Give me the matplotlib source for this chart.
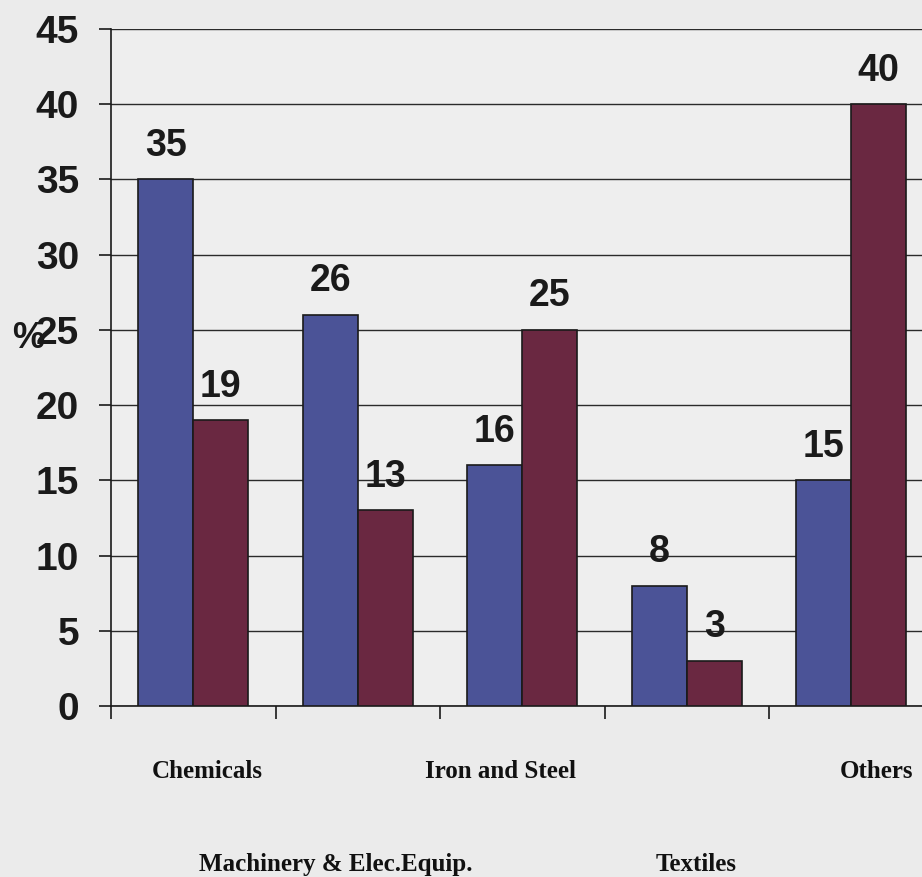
import matplotlib
matplotlib.use("Agg")
import matplotlib.pyplot as plt
import numpy as np

categories = ["Chemicals", "Machinery & Elec.Equip.", "Iron and Steel", "Textiles", "Others"]
series_a = [35, 26, 16, 8, 15]
series_b = [19, 13, 25, 3, 40]
y_ticks = [0, 5, 10, 15, 20, 25, 30, 35, 40, 45]

blue = "#4B5397"
maroon = "#6A2841"
bg = "#EBEBEB"

W, H = 922, 877
fig = plt.figure(figsize=(W / 100, H / 100), dpi=100, facecolor=bg)

# axes in pixel terms: left spine at x=111, y=0 at 706, y=45 at 29, category width ~164.5px
left, top_px, bottom_px = 111, 29, 706
cat_w = 164.5
ax = fig.add_axes([left / W, 1 - bottom_px / H, 5 * cat_w / W, (bottom_px - top_px) / H])
ax.set_facecolor("#EEEEEE")

x = np.arange(len(categories)) + 0.5
bw = 0.334
ax.bar(x - bw / 2, series_a, bw, color=blue, edgecolor="#1a1a1a", linewidth=1.2, zorder=3)
ax.bar(x + bw / 2, series_b, bw, color=maroon, edgecolor="#1a1a1a", linewidth=1.2, zorder=3)

ax.set_xlim(0, 5)
ax.set_ylim(0, 45)
ax.set_yticks(y_ticks)
ax.yaxis.grid(True, color="#2a2a2a", linewidth=1.0, zorder=0)
ax.set_axisbelow(True)

for s in ["top", "right"]:
    ax.spines[s].set_visible(False)
ax.spines["left"].set_color("#1a1a1a")
ax.spines["bottom"].set_color("#1a1a1a")
ax.spines["left"].set_linewidth(1.2)
ax.spines["bottom"].set_linewidth(1.2)

ax.tick_params(axis="y", length=9, width=1.2, pad=14, colors="#1a1a1a",
               labelsize=28, labelcolor="#1a1a1a")
for t in ax.get_yticklabels():
    t.set_fontfamily("Liberation Sans")
    t.set_fontweight("bold")

ax.set_xticks(np.arange(0, 6))
ax.set_xticklabels([])
ax.tick_params(axis="x", length=9, width=1.2, colors="#1a1a1a")

# staggered category labels, nudged horizontally (in points)
label_nudge = [10, -16, -16, 7, 18]
for i, name in enumerate(categories):
    row_y = -0.107 if i % 2 == 0 else -0.243
    ax.annotate(name, (x[i], row_y), xycoords=ax.get_xaxis_transform(),
                xytext=(label_nudge[i], 0), textcoords="offset points",
                ha="center", va="baseline", fontsize=18, fontweight="bold",
                family="Liberation Serif", color="#111111", annotation_clip=False)

# value labels above bars
for xs, vals in ((x - bw / 2, series_a), (x + bw / 2, series_b)):
    for xi, v in zip(xs, vals):
        ax.annotate(str(v), (xi, v), xytext=(0, 17), textcoords="offset points",
                    ha="center", va="baseline", fontsize=27, fontweight="bold",
                    family="Liberation Sans", color="#1a1a1a", zorder=4)

fig.text(28 / W, 1 - 338 / H, "%", ha="center", va="center", fontsize=26,
         fontweight="bold", family="Liberation Sans", color="#1a1a1a")

fig.savefig("out.png", dpi=100, facecolor=bg)
